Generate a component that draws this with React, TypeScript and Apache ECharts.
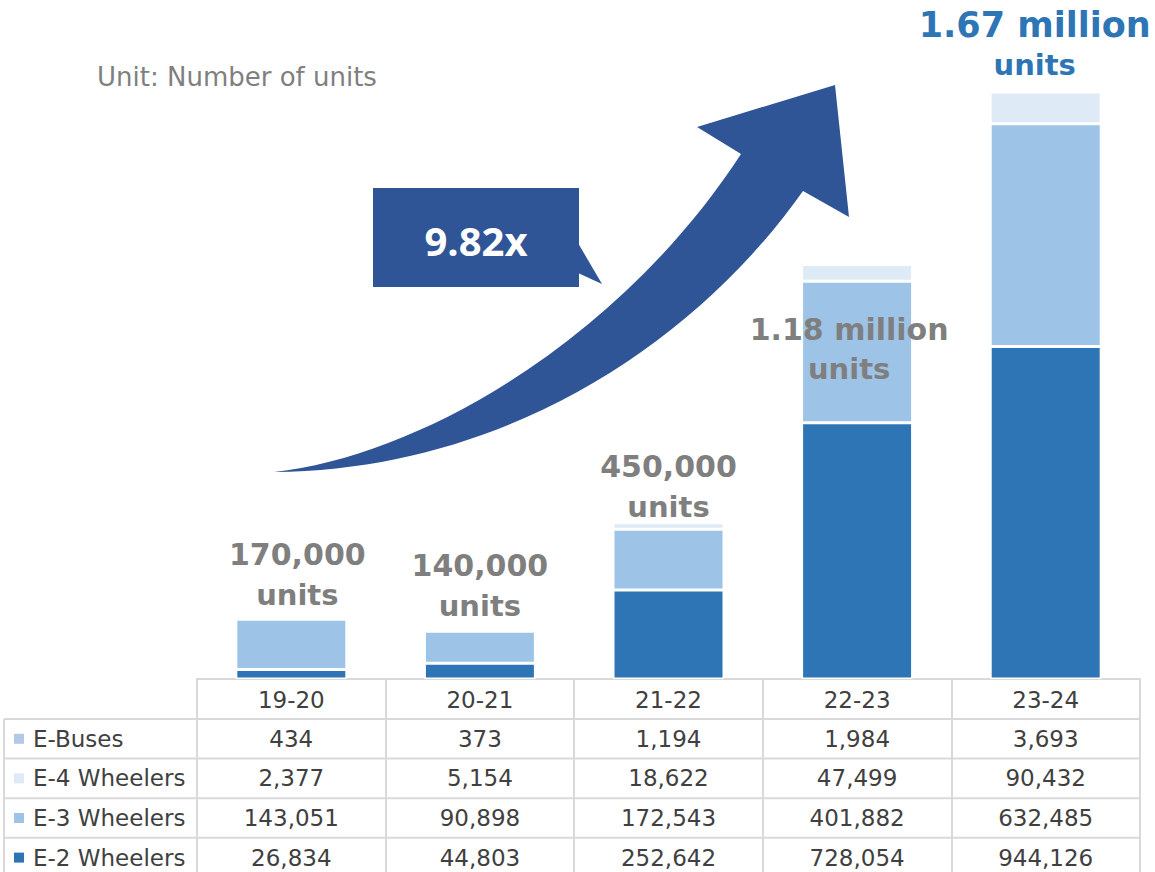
import React, { useEffect, useRef } from "react";
import * as echarts from "echarts";

// ---------- data ----------
const categories = ["19-20", "20-21", "21-22", "22-23", "23-24"];
const eBuses = [434, 373, 1194, 1984, 3693];
const e4Wheelers = [2377, 5154, 18622, 47499, 90432];
const e3Wheelers = [143051, 90898, 172543, 401882, 632485];
const e2Wheelers = [26834, 44803, 252642, 728054, 944126];
const totalLabels = ["170,000", "140,000", "450,000", "1.18 million", "1.67 million"];
const totalUnit = "units";
const growthLabel = "9.82x";
const unitLabel = "Unit: Number of units";
const tableNames = ["E-Buses", "E-4 Wheelers", "E-3 Wheelers", "E-2 Wheelers"];
const tableValues = [eBuses, e4Wheelers, e3Wheelers, e2Wheelers];

// ---------- styles ----------
const COLORS: Record<string, string> = {
  "E-2 Wheelers": "#2E75B6",
  "E-3 Wheelers": "#9DC3E6",
  "E-4 Wheelers": "#DEEBF7",
  "E-Buses": "#B4C7E7",
};
const ARROW = "#2F5597";
const GRID_LINE = "#D9D9D9";
const TEXT = "#404040";
const LABEL_GRAY = "#7F7F7F";
const FONT = "DejaVu Sans, Verdana, sans-serif";

const labelOffsets = [[6, 0], [0, 0], [0, 8], [-8, 129], [-11, -3]];
const labelSizes = [30, 30, 30, 30, 35];
const labelColors = [LABEL_GRAY, LABEL_GRAY, LABEL_GRAY, LABEL_GRAY, "#2E75B6"];

const ARROW_D =
  "M274,472 C420,456 620,340 741,154 L697,127 L835,85 L849,217 L803,191 C692,348 500,470 274,472 Z";
echarts.graphic.registerShape("growthArrow", echarts.graphic.extendPath(ARROW_D, {}));

const fmt = (v: number) => v.toLocaleString("en-US");

export default function App() {
  const ref = useRef<HTMLDivElement>(null);

  useEffect(() => {
    document.body.style.margin = "0";
    const chart = echarts.init(ref.current!, null, { renderer: "svg" });

    const barCommon = {
      type: "bar" as const,
      stack: "total",
      barWidth: 111,
      itemStyle: { borderColor: "#ffffff", borderWidth: 1.5 },
      emphasis: { disabled: true },
    };

    chart.setOption({
      animation: false,
      grid: { left: 197, right: 15, top: 10, bottom: 193, containLabel: false },
      xAxis: {
        type: "category",
        data: categories,
        axisLine: { show: true, lineStyle: { color: GRID_LINE, width: 2 } },
        axisTick: { show: true, length: 200, lineStyle: { color: GRID_LINE, width: 2 } },
        axisLabel: { color: TEXT, fontSize: 23, fontFamily: FONT, margin: 9 },
      },
      yAxis: {
        type: "value",
        min: 0,
        max: 1900000,
        show: false,
        splitLine: { show: false },
      },
      series: [
        { ...barCommon, name: "E-2 Wheelers", data: e2Wheelers, itemStyle: { ...barCommon.itemStyle, color: COLORS["E-2 Wheelers"] } },
        { ...barCommon, name: "E-3 Wheelers", data: e3Wheelers, itemStyle: { ...barCommon.itemStyle, color: COLORS["E-3 Wheelers"] } },
        { ...barCommon, name: "E-4 Wheelers", data: e4Wheelers, itemStyle: { ...barCommon.itemStyle, color: COLORS["E-4 Wheelers"] } },
        {
          ...barCommon,
          name: "E-Buses",
          itemStyle: { ...barCommon.itemStyle, color: COLORS["E-Buses"] },
          label: {
            show: true,
            position: "top",
            distance: 3,
            align: "center",
            formatter: (p: any) => `{l1|${totalLabels[p.dataIndex]}}\n{l2|${totalUnit}}`,
          },
          data: eBuses.map((v, i) => ({
            value: v,
            label: {
              offset: labelOffsets[i],
              rich: {
                l1: { fontFamily: FONT, fontWeight: "bold", fontSize: labelSizes[i], lineHeight: 40, color: labelColors[i], align: "center" },
                l2: { fontFamily: FONT, fontWeight: "bold", fontSize: 29, lineHeight: 40, color: labelColors[i], align: "center" },
              },
            },
          })),
        },
      ],
    });

    const baseY = chart.convertToPixel({ yAxisIndex: 0 }, 0) as number;
    const xs = categories.map((c) => chart.convertToPixel({ xAxisIndex: 0 }, c) as number);
    const step = xs[1] - xs[0];
    const rightX = xs[xs.length - 1] + step / 2;
    const headerH = 40;
    const rowH = 39.6;
    const leftX = 4;

    const graphic: any[] = [
      {
        type: "text",
        x: 97,
        y: 77,
        style: { text: unitLabel, fill: LABEL_GRAY, fontSize: 26, fontFamily: FONT, align: "left", verticalAlign: "middle" },
      },
      { type: "growthArrow", x: 0, y: 0, style: { fill: ARROW } },
      { type: "rect", shape: { x: 373, y: 188, width: 206, height: 99 }, style: { fill: ARROW } },
      { type: "polygon", shape: { points: [[578, 243], [602, 284], [578, 273]] }, style: { fill: ARROW } },
      {
        type: "text",
        x: 476,
        y: 240,
        style: { text: growthLabel, fill: "#ffffff", fontSize: 40, fontWeight: "bold", fontFamily: "Open Sans, sans-serif", align: "center", verticalAlign: "middle" },
      },
    ];

    // table horizontal lines & left border
    for (let r = 0; r < tableNames.length; r++) {
      const y = baseY + headerH + r * rowH;
      graphic.push({ type: "line", shape: { x1: leftX, y1: y, x2: rightX, y2: y }, style: { stroke: GRID_LINE, lineWidth: 2 } });
    }
    graphic.push({
      type: "line",
      shape: { x1: leftX, y1: baseY + headerH, x2: leftX, y2: 900 },
      style: { stroke: GRID_LINE, lineWidth: 2 },
    });

    tableNames.forEach((name, r) => {
      const cy = baseY + headerH + r * rowH + rowH / 2;
      graphic.push({ type: "rect", shape: { x: 14, y: cy - 5, width: 10, height: 10 }, style: { fill: COLORS[name] } });
      graphic.push({
        type: "text",
        x: 33,
        y: cy,
        style: { text: name, fill: TEXT, fontSize: 23, fontFamily: FONT, align: "left", verticalAlign: "middle" },
      });
      tableValues[r].forEach((v, i) => {
        graphic.push({
          type: "text",
          x: xs[i],
          y: cy,
          style: { text: fmt(v), fill: TEXT, fontSize: 23, fontFamily: FONT, align: "center", verticalAlign: "middle" },
        });
      });
    });

    chart.setOption({ graphic });

    return () => chart.dispose();
  }, []);

  return <div ref={ref} style={{ width: 1155, height: 872 }} />;
}
